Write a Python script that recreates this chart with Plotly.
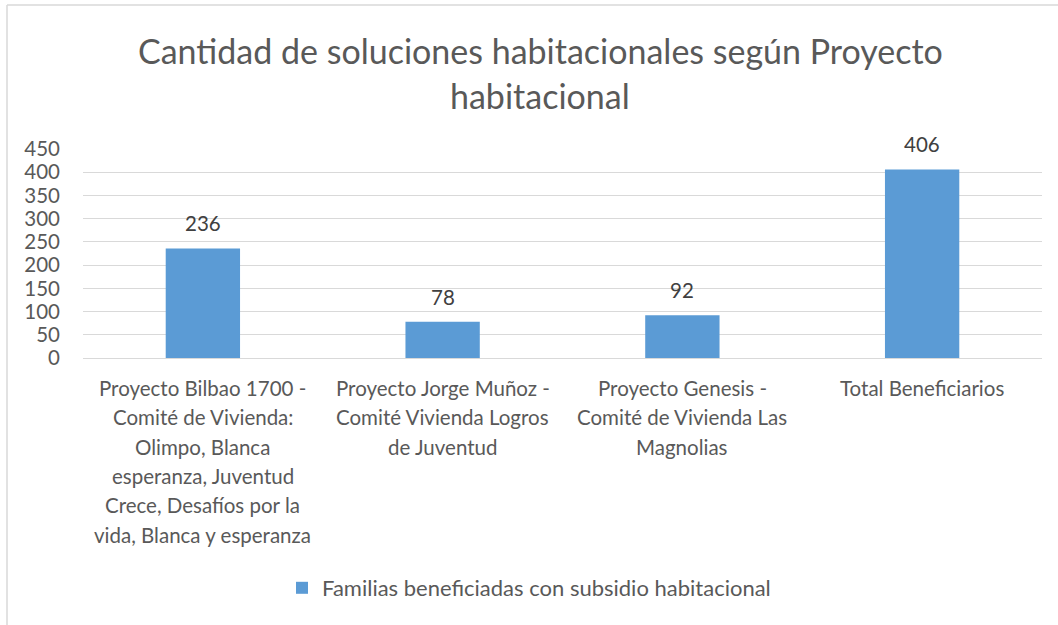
import plotly.graph_objects as go

categories = [
    "Proyecto Bilbao 1700 -|Comité de Vivienda:|Olimpo, Blanca|esperanza, Juventud|Crece, Desafíos por la|vida, Blanca y esperanza",
    "Proyecto Jorge Muñoz -|Comité Vivienda Logros|de Juventud",
    "Proyecto Genesis -|Comité de Vivienda Las|Magnolias",
    "Total Beneficiarios",
]
values = [236, 78, 92, 406]
series_name = "Familias beneficiadas con subsidio habitacional"
title_lines = ["Cantidad de soluciones habitacionales según Proyecto", "habitacional"]
y_ticks = [0, 50, 100, 150, 200, 250, 300, 350, 400, 450]

FONT = "Lato"
GRAY = "#595959"
keys = [f"c{i}" for i in range(len(categories))]
PLOT_LEFT = 83
PLOT_W = 959
PLOT_BOTTOM = 358
PLOT_H = 209

def py(pixel_y):
    return (PLOT_BOTTOM - pixel_y) / PLOT_H

def px(pixel_x):
    return (pixel_x - PLOT_LEFT) / PLOT_W

fig = go.Figure()
fig.add_trace(go.Bar(
    x=keys, y=values, name=series_name,
    marker=dict(color="#5B9BD5", line=dict(width=0)),
))

annotations = []
# data labels
for k, v in zip(keys, values):
    annotations.append(dict(
        x=k, xref="x", y=v, yref="y", yanchor="middle", yshift=25,
        text=str(v), showarrow=False,
        font=dict(family=FONT, size=20.5, color="#404040"),
    ))
# category labels
for k, cat in zip(keys, categories):
    for j, line in enumerate(cat.split("|")):
        annotations.append(dict(
            x=k, xref="x", y=0, yref="paper", yanchor="middle",
            yshift=-30 - 29.3 * j, text=line, showarrow=False,
            font=dict(family=FONT, size=20.5, color=GRAY),
        ))
# title
for j, line in enumerate(title_lines):
    annotations.append(dict(
        x=px(540), xref="paper", y=py(50 + 45 * j), yref="paper",
        yanchor="middle", xanchor="center", text=line, showarrow=False,
        font=dict(family=FONT, size=34, color=GRAY),
    ))

fig.update_layout(
    width=1058, height=625,
    paper_bgcolor="white", plot_bgcolor="white",
    margin=dict(l=PLOT_LEFT, r=1058 - PLOT_LEFT - PLOT_W, t=PLOT_BOTTOM - PLOT_H, b=625 - PLOT_BOTTOM),
    bargap=0.69,
    showlegend=True,
    legend=dict(orientation="h", x=0.5, xanchor="center", xref="container",
                y=1 - 588 / 625, yanchor="middle", yref="container",
                font=dict(family=FONT, size=22, color=GRAY)),
    annotations=annotations,
    shapes=[
        dict(type="line", xref="paper", yref="paper", x0=px(7), x1=1.2, y0=py(5), y1=py(5),
             line=dict(color="#D9D9D9", width=1.5)),
        dict(type="line", xref="paper", yref="paper", x0=px(7), x1=px(7), y0=py(640), y1=py(5),
             line=dict(color="#D9D9D9", width=1.5)),
    ],
    font=dict(family=FONT, color=GRAY),
)
fig.update_xaxes(showticklabels=False, showgrid=False, showline=False, zeroline=False)
fig.update_yaxes(range=[0, 450], tickvals=y_ticks, showgrid=True, gridcolor="#D9D9D9", gridwidth=1,
                 zeroline=True, zerolinecolor="#D9D9D9", zerolinewidth=1,
                 tickfont=dict(family=FONT, size=20.5, color=GRAY), ticks="", ticklabelstandoff=22)

fig.write_html("out.html", config={"displayModeBar": False},
               post_script="document.body.style.margin='0';")
